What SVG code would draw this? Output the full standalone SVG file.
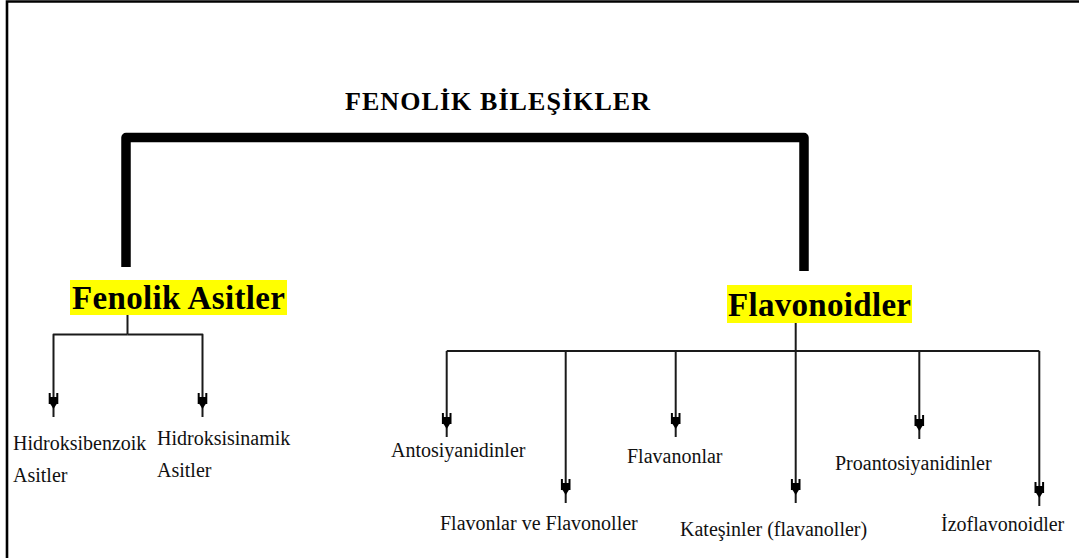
<svg xmlns="http://www.w3.org/2000/svg" width="1079" height="558" viewBox="0 0 1079 558">
  <defs>
    <style>
      .frame { fill: none; stroke: #000; stroke-width: 2.6; }
      .bracket { fill: none; stroke: #000; stroke-width: 9.5; stroke-linejoin: round; stroke-linecap: butt; }
      .thin { fill: none; stroke: #1a1a1a; stroke-width: 2; stroke-linejoin: round; }
      .arrow { marker-end: url(#fork); }
      .hl { fill: #ffff00; }
      .big { font-family: "Liberation Serif", "Times New Roman", serif; font-weight: bold; font-size: 33px; fill: #000; }
      .title { font-family: "Liberation Serif", "Times New Roman", serif; font-weight: bold; font-size: 26px; fill: #000; }
      .lbl { font-family: "Liberation Serif", "Times New Roman", serif; font-size: 20px; fill: #111; }
    </style>
    <marker id="fork" markerUnits="userSpaceOnUse" orient="auto" refX="0" refY="0" markerWidth="30" markerHeight="12" viewBox="-26 -6 30 12" overflow="visible">
      <path d="M-24,-3.8 H-13 M-24,3.8 H-13" stroke="#000" stroke-width="2" fill="none"/>
      <path d="M-20,-3.8 H-14 L-8,0 L-14,3.8 H-20 Z" fill="#000"/>
    </marker>
  </defs>

  <rect width="1079" height="558" fill="#fff"/>
  <path class="frame" d="M7,558 V1.5 H1079"/>

  <g id="connectors">
    <path class="bracket" d="M126,267 V137.5 H804 V271"/>
    <path class="thin" d="M127.5,315 V334.5"/>
    <path class="thin arrow" d="M127.5,334.5 H53.5 V417"/>
    <path class="thin arrow" d="M127.5,334.5 H202.5 V417"/>
    <path class="thin arrow" d="M795.7,322 V503"/>
    <path class="thin" d="M446.7,351 H1039.3"/>
    <path class="thin arrow" d="M446.7,351 V437"/>
    <path class="thin arrow" d="M565.7,351 V503"/>
    <path class="thin arrow" d="M675.7,351 V437"/>
    <path class="thin arrow" d="M919.3,351 V439"/>
    <path class="thin arrow" d="M1039.3,351 V506"/>
  </g>

  <g id="node-fenolik-bilesikler">
    <text class="title" x="345" y="110" textLength="305" lengthAdjust="spacing">FENOLİK BİLEŞİKLER</text>
  </g>

  <g id="node-fenolik-asitler">
    <rect class="hl" x="70" y="280" width="217" height="35"/>
    <text class="big" x="72" y="309" textLength="213" lengthAdjust="spacing">Fenolik Asitler</text>
  </g>

  <g id="node-flavonoidler">
    <rect class="hl" x="727" y="285" width="185" height="38"/>
    <text class="big" x="728" y="316" textLength="183" lengthAdjust="spacing">Flavonoidler</text>
  </g>

  <g id="node-hidroksibenzoik">
    <text class="lbl" x="13" y="450">Hidroksibenzoik</text>
    <text class="lbl" x="13" y="482">Asitler</text>
  </g>

  <g id="node-hidroksisinamik">
    <text class="lbl" x="157" y="445">Hidroksisinamik</text>
    <text class="lbl" x="157" y="477">Asitler</text>
  </g>

  <g id="node-antosiyanidinler">
    <text class="lbl" x="391" y="457">Antosiyanidinler</text>
  </g>

  <g id="node-flavonlar">
    <text class="lbl" x="440" y="530">Flavonlar ve Flavonoller</text>
  </g>

  <g id="node-flavanonlar">
    <text class="lbl" x="627" y="463">Flavanonlar</text>
  </g>

  <g id="node-katesinler">
    <text class="lbl" x="680" y="536">Kateşinler (flavanoller)</text>
  </g>

  <g id="node-proantosiyanidinler">
    <text class="lbl" x="835" y="470">Proantosiyanidinler</text>
  </g>

  <g id="node-izoflavonoidler">
    <text class="lbl" x="941" y="531">İzoflavonoidler</text>
  </g>
</svg>
